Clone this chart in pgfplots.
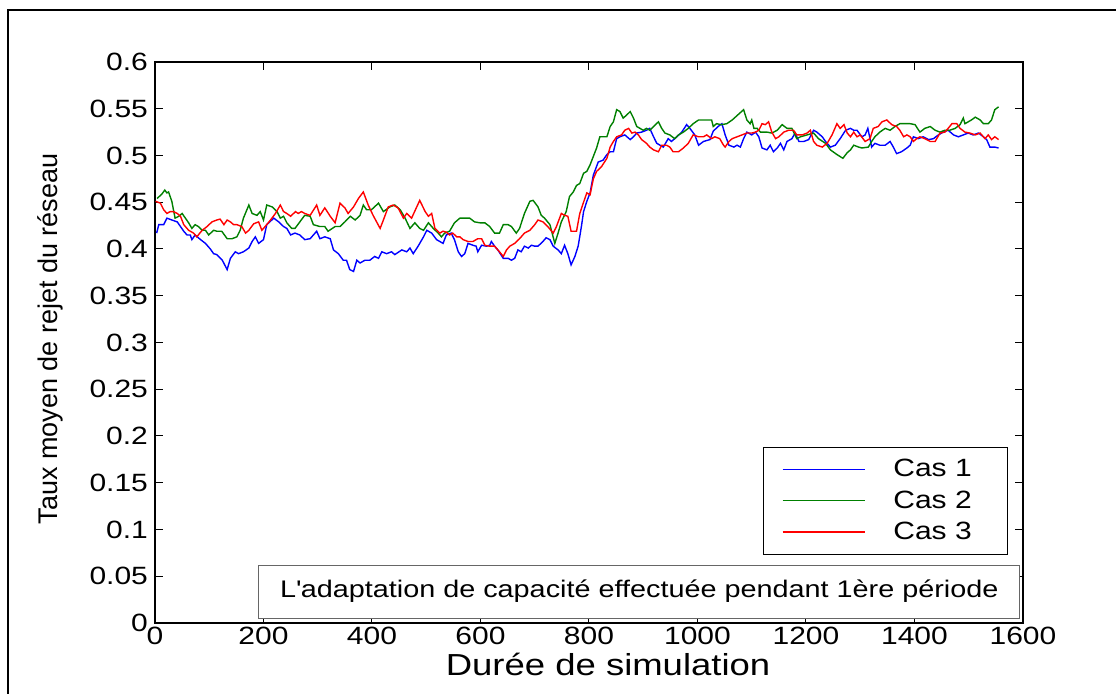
\documentclass[border=0pt]{standalone}
\usepackage{fontspec}
\setmainfont{Liberation Sans}[FakeStretch=1.2]
\newfontfamily\ylabfont{Liberation Sans}
\usepackage{pgfplots}
\pgfplotsset{compat=1.18}
\definecolor{mgreen}{rgb}{0,0.5,0}
\definecolor{mred}{rgb}{1,0,0}
\definecolor{mblue}{rgb}{0,0,1}
\begin{document}
\begin{tikzpicture}[x=1pt,y=1pt]
\useasboundingbox (-77.5,-35.5) rectangle (480.5,311.5);
\fill[white] (-77.5,-35.5) rectangle (480.5,311.5);
\draw[line width=1pt] (-73.5,-50) -- (-73.5,306.5) -- (495,306.5);
\begin{axis}[
  at={(0,0)}, anchor=south west,
  scale only axis, width=434pt, height=280.5pt,
  xmin=0, xmax=1600, ymin=0, ymax=0.6,
  xtick={0,200,400,600,800,1000,1200,1400,1600},
  ytick={0,0.05,0.1,0.15,0.2,0.25,0.3,0.35,0.4,0.45,0.5,0.55,0.6},
  scaled x ticks=false, scaled y ticks=false,
  /pgf/number format/assume math mode=true,
  xticklabel style={/pgf/number format/1000 sep={}, yshift=1.5pt},
  yticklabel style={/pgf/number format/fixed, /pgf/number format/precision=2},
  tick label style={font=\fontsize{12.5}{15}\selectfont},
  tick align=inside, major tick length=4pt,
  tick style={black, line width=0.5pt},
  axis line style={line width=0.8pt},
  xlabel={Durée de simulation},
  xlabel style={font=\fontsize{15.2}{18}\selectfont, at={(axis description cs:0.522,-0.074)}, anchor=center},
  ylabel={\ylabfont Taux moyen de rejet du réseau},
  ylabel style={font=\fontsize{13.5}{16}\selectfont, at={(axis description cs:-0.121,0.506)}, anchor=center},
  legend style={at={(rel axis cs:0.983,0.3137)}, anchor=north east, draw=black, line width=0.5pt,
    font=\fontsize{12.5}{15}\selectfont, inner xsep=9pt, inner ysep=6pt,
    nodes={inner sep=0pt}, row sep=5.5pt, column sep=14pt},
  legend cell align=left,
]
\addlegendimage{legend image code/.code={\draw[draw=mblue, line width=0.7pt] (0pt,0.25pt) -- (41pt,0.25pt);}}
\addlegendentry{Cas 1\hspace*{9pt}}
\addlegendimage{legend image code/.code={\draw[draw=mgreen, line width=0.7pt] (0pt,0.25pt) -- (41pt,0.25pt);}}
\addlegendentry{Cas 2\hspace*{9pt}}
\addlegendimage{legend image code/.code={\draw[draw=mred, line width=0.7pt] (0pt,0.25pt) -- (41pt,0.25pt);}}
\addlegendentry{Cas 3\hspace*{9pt}}
\addplot[mblue, line width=0.7pt, forget plot] coordinates {
(3,0.417) (7,0.426) (16,0.426) (22,0.433) (31,0.431) (41,0.429) (47,0.424) (53,0.419) (59,0.415) (65,0.415) (68,0.410) (74,0.415) (84,0.410) (93,0.406) (102,0.400) (108,0.395) (114,0.394) (124,0.388) (133,0.378) (139,0.390) (148,0.397) (154,0.395) (163,0.397) (173,0.401) (179,0.408) (185,0.413) (191,0.406) (200,0.410) (206,0.426) (219,0.433) (228,0.429) (237,0.424) (243,0.422) (250,0.415) (258,0.417) (267,0.415) (276,0.410) (286,0.411) (298,0.419) (304,0.411) (313,0.413) (323,0.411) (329,0.399) (338,0.395) (347,0.388) (353,0.388) (359,0.378) (366,0.376) (372,0.388) (378,0.385) (387,0.388) (396,0.388) (405,0.392) (412,0.390) (418,0.397) (427,0.395) (436,0.397) (442,0.394) (455,0.399) (464,0.397) (470,0.401) (476,0.395) (485,0.403) (495,0.413) (501,0.420) (510,0.417) (519,0.410) (525,0.408) (531,0.406) (537,0.415) (546,0.417) (552,0.410) (559,0.397) (565,0.392) (571,0.395) (577,0.406) (586,0.404) (592,0.403) (595,0.397) (602,0.404) (611,0.403) (617,0.404) (620,0.408) (626,0.403) (632,0.399) (642,0.390) (651,0.390) (657,0.388) (663,0.390) (669,0.399) (675,0.397) (681,0.403) (688,0.401) (694,0.404) (700,0.403) (706,0.403) (715,0.408) (721,0.412) (728,0.410) (734,0.403) (743,0.399) (749,0.395) (755,0.404) (761,0.395) (767,0.383) (774,0.392) (780,0.403) (786,0.424) (790,0.440) (796,0.451) (802,0.460) (808,0.479) (817,0.493) (826,0.495) (833,0.501) (839,0.504) (845,0.504) (851,0.518) (857,0.520) (866,0.522) (876,0.517) (882,0.520) (888,0.524) (897,0.525) (906,0.527) (912,0.529) (919,0.520) (925,0.513) (931,0.511) (937,0.509) (946,0.518) (952,0.515) (962,0.520) (971,0.525) (980,0.533) (986,0.529) (995,0.522) (1002,0.511) (1011,0.515) (1023,0.517) (1029,0.526) (1038,0.531) (1045,0.534) (1051,0.522) (1058,0.511) (1067,0.509) (1073,0.511) (1079,0.509) (1085,0.518) (1091,0.525) (1100,0.522) (1107,0.525) (1113,0.520) (1119,0.508) (1128,0.506) (1134,0.511) (1140,0.504) (1147,0.508) (1153,0.513) (1159,0.506) (1165,0.515) (1174,0.518) (1180,0.524) (1187,0.515) (1196,0.515) (1205,0.517) (1214,0.527) (1220,0.525) (1230,0.520) (1236,0.515) (1245,0.509) (1254,0.511) (1263,0.518) (1273,0.527) (1282,0.529) (1288,0.527) (1294,0.527) (1303,0.520) (1309,0.522) (1314,0.529) (1318,0.518) (1321,0.509) (1327,0.513) (1336,0.511) (1346,0.511) (1355,0.515) (1361,0.509) (1367,0.502) (1376,0.504) (1386,0.508) (1392,0.511) (1398,0.520) (1407,0.518) (1416,0.520) (1426,0.517) (1435,0.518) (1444,0.522) (1453,0.525) (1462,0.527) (1472,0.522) (1481,0.520) (1490,0.522) (1499,0.524) (1508,0.522) (1518,0.524) (1527,0.520) (1533,0.517) (1539,0.509) (1548,0.509) (1555,0.508)
};
\addplot[mgreen, line width=0.7pt, forget plot] coordinates {
(4,0.454) (13,0.459) (18,0.463) (22,0.460) (25,0.461) (31,0.451) (37,0.433) (44,0.435) (50,0.438) (56,0.433) (62,0.428) (68,0.422) (74,0.426) (80,0.424) (87,0.420) (93,0.420) (99,0.415) (108,0.420) (114,0.419) (123,0.419) (133,0.411) (142,0.411) (151,0.413) (157,0.420) (163,0.433) (173,0.447) (179,0.438) (188,0.436) (194,0.440) (200,0.431) (206,0.447) (216,0.445) (225,0.440) (231,0.433) (237,0.435) (243,0.428) (252,0.422) (258,0.422) (267,0.429) (276,0.436) (286,0.435) (292,0.426) (304,0.424) (313,0.424) (319,0.419) (332,0.424) (341,0.424) (350,0.429) (360,0.435) (369,0.431) (378,0.436) (384,0.447) (390,0.442) (399,0.442) (412,0.449) (421,0.440) (433,0.445) (442,0.447) (452,0.442) (461,0.433) (470,0.422) (479,0.428) (488,0.422) (495,0.420) (504,0.428) (513,0.422) (522,0.417) (528,0.413) (534,0.417) (543,0.419) (552,0.428) (562,0.433) (571,0.433) (580,0.433) (589,0.429) (599,0.428) (608,0.428) (617,0.424) (626,0.417) (635,0.417) (642,0.426) (651,0.426) (657,0.424) (666,0.417) (672,0.422) (681,0.438) (691,0.451) (697,0.452) (706,0.445) (712,0.436) (718,0.433) (728,0.426) (737,0.406) (743,0.417) (749,0.429) (758,0.440) (764,0.456) (771,0.461) (777,0.468) (783,0.470) (790,0.481) (796,0.483) (802,0.490) (808,0.499) (814,0.508) (820,0.520) (826,0.520) (833,0.520) (839,0.531) (845,0.536) (851,0.549) (857,0.547) (863,0.540) (869,0.543) (876,0.547) (882,0.540) (888,0.531) (894,0.529) (900,0.527) (906,0.529) (912,0.527) (919,0.531) (928,0.536) (934,0.529) (940,0.524) (949,0.522) (958,0.518) (965,0.522) (974,0.525) (983,0.529) (992,0.534) (1002,0.538) (1014,0.538) (1026,0.538) (1029,0.531) (1035,0.534) (1044,0.533) (1054,0.534) (1064,0.538) (1085,0.549) (1091,0.538) (1097,0.534) (1100,0.538) (1104,0.529) (1110,0.529) (1116,0.525) (1128,0.525) (1137,0.524) (1147,0.527) (1156,0.533) (1165,0.529) (1174,0.529) (1183,0.518) (1190,0.520) (1202,0.522) (1214,0.524) (1223,0.518) (1236,0.513) (1245,0.506) (1257,0.501) (1268,0.497) (1276,0.503) (1282,0.506) (1288,0.511) (1297,0.509) (1303,0.508) (1315,0.509) (1321,0.515) (1327,0.520) (1336,0.525) (1346,0.529) (1355,0.527) (1364,0.531) (1373,0.534) (1383,0.534) (1392,0.534) (1401,0.533) (1410,0.525) (1419,0.529) (1429,0.531) (1438,0.527) (1447,0.525) (1456,0.527) (1465,0.527) (1475,0.529) (1484,0.533) (1490,0.540) (1493,0.534) (1499,0.536) (1505,0.538) (1512,0.541) (1521,0.538) (1527,0.534) (1536,0.534) (1542,0.538) (1548,0.549) (1555,0.552)
};
\addplot[mred, line width=0.7pt, forget plot] coordinates {
(1,0.451) (10,0.449) (16,0.442) (22,0.438) (28,0.440) (34,0.440) (41,0.438) (47,0.435) (53,0.426) (62,0.420) (71,0.417) (77,0.413) (87,0.420) (96,0.424) (105,0.429) (114,0.431) (120,0.432) (127,0.426) (133,0.431) (139,0.429) (145,0.426) (151,0.426) (160,0.424) (167,0.417) (173,0.420) (182,0.427) (191,0.429) (197,0.420) (203,0.424) (213,0.431) (222,0.438) (231,0.447) (237,0.440) (243,0.438) (250,0.435) (259,0.440) (264,0.438) (270,0.440) (276,0.438) (286,0.436) (298,0.447) (304,0.436) (313,0.444) (323,0.435) (332,0.428) (341,0.449) (350,0.444) (356,0.438) (366,0.445) (375,0.454) (384,0.461) (393,0.447) (402,0.436) (415,0.422) (421,0.431) (430,0.445) (439,0.447) (448,0.444) (458,0.433) (464,0.438) (473,0.433) (488,0.452) (498,0.440) (504,0.435) (510,0.438) (516,0.422) (525,0.417) (531,0.419) (537,0.418) (543,0.415) (549,0.417) (556,0.413) (562,0.413) (568,0.410) (577,0.408) (586,0.408) (595,0.411) (602,0.411) (608,0.404) (617,0.403) (626,0.403) (635,0.397) (642,0.392) (648,0.399) (654,0.403) (663,0.406) (672,0.411) (681,0.417) (691,0.420) (700,0.426) (706,0.431) (715,0.429) (724,0.424) (734,0.417) (740,0.424) (749,0.438) (755,0.436) (761,0.435) (767,0.419) (777,0.419) (783,0.438) (790,0.450) (796,0.460) (802,0.458) (808,0.475) (814,0.483) (823,0.488) (833,0.497) (839,0.509) (845,0.515) (851,0.520) (860,0.522) (866,0.527) (873,0.529) (879,0.524) (885,0.525) (891,0.522) (897,0.517) (906,0.513) (912,0.509) (919,0.506) (928,0.504) (934,0.511) (943,0.511) (949,0.509) (955,0.504) (965,0.504) (974,0.508) (983,0.513) (992,0.522) (1002,0.520) (1011,0.520) (1017,0.522) (1026,0.518) (1032,0.520) (1041,0.518) (1048,0.511) (1051,0.509) (1058,0.515) (1064,0.518) (1073,0.520) (1082,0.522) (1091,0.524) (1100,0.524) (1107,0.525) (1113,0.527) (1119,0.534) (1125,0.533) (1131,0.536) (1137,0.525) (1144,0.518) (1150,0.520) (1159,0.525) (1168,0.527) (1177,0.527) (1183,0.522) (1193,0.522) (1202,0.524) (1208,0.527) (1214,0.515) (1220,0.511) (1230,0.509) (1239,0.513) (1248,0.522) (1257,0.534) (1263,0.529) (1270,0.533) (1276,0.524) (1282,0.520) (1288,0.525) (1294,0.520) (1300,0.522) (1309,0.515) (1318,0.518) (1324,0.529) (1333,0.531) (1340,0.536) (1349,0.538) (1358,0.533) (1367,0.531) (1373,0.527) (1380,0.520) (1386,0.522) (1392,0.520) (1398,0.515) (1404,0.518) (1410,0.520) (1419,0.518) (1429,0.515) (1438,0.515) (1447,0.524) (1456,0.525) (1462,0.529) (1469,0.534) (1478,0.534) (1484,0.529) (1493,0.525) (1502,0.524) (1512,0.522) (1521,0.524) (1530,0.518) (1536,0.522) (1542,0.517) (1548,0.520) (1555,0.517)
};
\node[draw=black!60, fill=white, line width=0.5pt, minimum width=380.5pt, minimum height=26.5pt,
  inner sep=0pt, font=\fontsize{12}{14}\selectfont] at (rel axis cs:0.558,0.0561)
  {L\textquotesingle adaptation de capacité effectuée pendant 1ère période};
\end{axis}
\end{tikzpicture}
\end{document}
